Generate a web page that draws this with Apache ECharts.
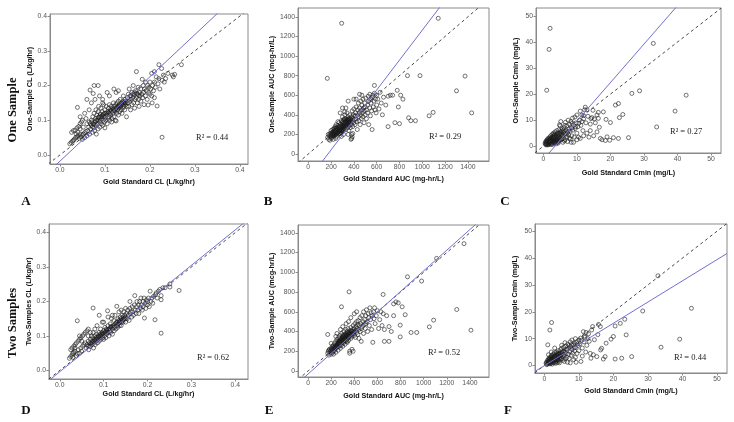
<!DOCTYPE html>
<html><head><meta charset="utf-8">
<script src="https://cdn.jsdelivr.net/npm/echarts@6/dist/echarts.min.js"></script>
<style>html,body{margin:0;padding:0;background:#fff}#c{width:734px;height:422px}</style>
</head><body><div id="c"></div>
<script>
// ---- tick labels ----
const clTicks = [0, 0.1, 0.2, 0.3, 0.4];
const aucTicks = [0, 200, 400, 600, 800, 1000, 1200, 1400];
const cminTicks = [0, 10, 20, 30, 40, 50];

// ---- regression fits [slope, intercept] ----
const fitA = [1.216, -0.018];
const fitB = [1.527, -263];
const fitC = [1.477, -5.1];
const fitD = [1.03, -0.004];
const fitE = [1.046, -31];
const fitF = [0.79, -0.07];

const r2Labels = ['R² = 0.44', 'R² = 0.29', 'R² = 0.27', 'R² = 0.62', 'R² = 0.52', 'R² = 0.44'];
const rowLabels = ['One Sample', 'Two Samples'];
const panelLetters = ['A', 'B', 'C', 'D', 'E', 'F'];

// ---- data points [gold standard, estimate] ----
const ptsA = [[0.022,0.032],[0.025,0.036],[0.028,0.04],[0.03,0.042],[0.032,0.045],[0.035,0.05],[0.038,0.052],[0.04,0.055],[0.026,0.065],[0.03,0.07],[0.034,0.072],[0.038,0.078],[0.042,0.082],[0.045,0.09],[0.048,0.095],[0.05,0.1],[0.043,0.048],[0.047,0.052],[0.05,0.058],[0.052,0.06],[0.055,0.064],[0.058,0.068],[0.045,0.06],[0.05,0.045],[0.055,0.05],[0.06,0.055],[0.04,0.065],[0.036,0.06],[0.045,0.075],[0.052,0.08],[0.039,0.137],[0.045,0.11],[0.055,0.12],[0.058,0.105],[0.06,0.09],
[0.062,0.07],[0.064,0.08],[0.065,0.095],[0.066,0.06],[0.068,0.075],[0.07,0.085],[0.07,0.1],[0.072,0.065],[0.073,0.11],[0.074,0.09],[0.075,0.078],[0.076,0.12],[0.077,0.07],[0.078,0.095],[0.079,0.105],[0.08,0.085],[0.08,0.13],[0.081,0.06],[0.082,0.115],[0.083,0.09],[0.084,0.1],[0.085,0.075],[0.085,0.125],[0.086,0.14],[0.087,0.108],[0.088,0.095],[0.089,0.08],[0.09,0.118],[0.09,0.1],[0.091,0.135],[0.092,0.09],[0.093,0.105],[0.094,0.125],[0.095,0.085],[0.095,0.115],[0.096,0.1],[0.097,0.145],[0.098,0.11],[0.099,0.095],[0.1,0.12],[0.1,0.13],[0.1,0.078],
[0.067,0.187],[0.076,0.2],[0.085,0.2],[0.074,0.177],[0.06,0.16],[0.07,0.15],[0.065,0.13],[0.078,0.16],[0.088,0.17],[0.095,0.16],[0.105,0.18],[0.11,0.17],[0.12,0.19],[0.125,0.18],[0.13,0.185],[0.095,0.15],
[0.102,0.1],[0.103,0.14],[0.104,0.115],[0.105,0.09],[0.106,0.125],[0.107,0.105],[0.108,0.135],[0.109,0.11],[0.11,0.12],[0.11,0.145],[0.111,0.1],[0.112,0.13],[0.113,0.115],[0.114,0.14],[0.115,0.125],[0.116,0.105],[0.117,0.135],[0.118,0.12],[0.119,0.15],[0.12,0.13],[0.12,0.11],[0.121,0.14],[0.122,0.125],[0.123,0.1],[0.124,0.145],[0.125,0.135],[0.126,0.12],[0.127,0.15],[0.128,0.13],[0.129,0.14],[0.13,0.115],[0.13,0.155],[0.131,0.135],[0.132,0.145],[0.133,0.125],[0.134,0.16],[0.135,0.14],[0.136,0.13],[0.137,0.15],[0.138,0.12],[0.139,0.145],[0.14,0.135],[0.14,0.155],[0.141,0.17],[0.142,0.14],[0.143,0.15],[0.144,0.13],[0.145,0.16],[0.146,0.145],[0.147,0.155],[0.148,0.11],[0.149,0.14],[0.15,0.15],[0.15,0.165],[0.115,0.095],[0.125,0.098],
[0.152,0.175],[0.153,0.14],[0.154,0.19],[0.155,0.155],[0.156,0.17],[0.157,0.13],[0.158,0.16],[0.16,0.18],[0.16,0.145],[0.162,0.165],[0.163,0.2],[0.164,0.15],[0.165,0.175],[0.166,0.135],[0.167,0.16],[0.168,0.185],[0.17,0.165],[0.17,0.24],[0.172,0.15],[0.173,0.175],[0.174,0.195],[0.175,0.16],[0.176,0.14],[0.177,0.18],[0.178,0.17],[0.18,0.19],[0.18,0.155],[0.182,0.175],[0.183,0.218],[0.184,0.165],[0.185,0.2],[0.186,0.18],[0.187,0.145],[0.188,0.19],[0.19,0.17],[0.19,0.21],[0.192,0.185],[0.194,0.16],[0.195,0.2],[0.196,0.144],[0.197,0.18],[0.198,0.195],[0.2,0.175],[0.2,0.21],
[0.202,0.19],[0.204,0.17],[0.204,0.235],[0.206,0.2],[0.208,0.185],[0.21,0.24],[0.21,0.21],[0.212,0.195],[0.214,0.225],[0.216,0.141],[0.218,0.205],[0.22,0.26],[0.22,0.22],[0.222,0.19],[0.226,0.249],[0.227,0.215],[0.227,0.051],[0.23,0.23],[0.232,0.21],[0.235,0.22],[0.24,0.235],[0.25,0.23],[0.252,0.225],[0.255,0.232],[0.27,0.26],[0.21,0.165],[0.205,0.15],
[0.068,0.09],[0.071,0.095],[0.073,0.082],[0.076,0.088],[0.079,0.098],[0.082,0.1],[0.085,0.108],[0.088,0.112],[0.091,0.11],[0.094,0.112],[0.097,0.118],[0.101,0.112],[0.104,0.12],[0.108,0.122],[0.111,0.125],[0.114,0.128],[0.118,0.132],[0.121,0.128],[0.124,0.132],[0.127,0.138],[0.131,0.142],[0.134,0.14],[0.138,0.148],[0.142,0.152],[0.145,0.15],[0.158,0.17],[0.162,0.175],[0.166,0.18],[0.171,0.178],[0.175,0.172]];

const ptsB = [[170,170],[175,200],[180,150],[185,190],[190,210],[195,180],[200,200],[200,240],[205,170],[210,220],[210,190],[215,250],[220,200],[220,230],[225,180],[225,260],[230,210],[230,240],[235,195],[235,280],[240,220],[240,250],[245,205],[245,300],[250,230],[250,270],[255,215],[255,250],[260,240],[260,290],[265,200],[265,260],[270,230],[270,320],[275,250],[275,280],[280,210],[280,300],[285,240],[285,270],[290,260],[290,340],[295,230],[295,290],[300,250],[300,310],[300,380],[305,270],[305,330],[310,240],[310,290],[315,350],[315,260],[320,300],[320,400],[325,280],[325,330],[330,310],[330,250],[335,360],[335,290],[340,320],[340,420],[345,270],[345,340],[350,300],[350,380],[355,330],[355,240],[360,350],[360,290],[365,400],[365,320],[370,270],[370,360],[375,340],[375,300],[380,380],[380,160],[380,200],[385,330],[385,440],[390,360],[390,280],[395,400],[400,320],[400,460],[405,350],[410,390],[410,300],[415,420],[420,360],[420,480],[425,330],[430,400],[430,250],[435,450],[440,380],[440,520],[445,340],[450,420],[450,470],[455,300],[460,400],[460,540],[465,360],[470,450],[470,500],[475,420],[480,380],[480,560],[485,470],[490,320],[490,440],[495,520],[500,400],[500,480],[505,570],[510,450],[510,360],[520,500],[520,420],[525,590],[530,540],[530,300],[540,470],[540,610],[545,390],[550,520],[550,560],[555,440],[560,580],[560,250],[565,600],[570,480],[575,540],[580,620],[580,700],[585,450],[590,560],[595,420],[600,600],[600,500],[610,560],[620,460],[630,630],[640,520],[650,400],[660,580],[680,500],[700,590],[700,280],[720,600],[740,600],[760,320],[780,650],[790,480],[800,310],[810,600],[830,560],[870,800],[880,370],[900,340],[940,340],[980,800],[1060,390],[1095,425],[1140,1385],[1300,645],[1375,795],[1433,420],[293,1334],[167,772],
[375,150],[385,175],[390,210],[250,180],[230,260],[280,420],[300,470],[320,430],[350,540],[400,560],[420,560],[450,610],[470,600],[260,330],[330,470],[350,200],[290,180],[310,200],[240,160],[220,150],[200,160],[190,140],
[210,200],[215,185],[225,215],[235,230],[245,240],[255,230],[265,225],[275,245],[285,255],[295,265],[305,280],[315,290],[325,300],[335,310],[345,305],[355,320],[275,210],[285,220],[295,240],[305,250],[265,275],[275,265],[245,265],[300,330],[310,350],[320,360],[330,340],[340,350],[350,345],[360,330],[370,330],[380,350],
[200,185],[205,215],[215,205],[225,225],[230,195],[240,205],[250,215],[260,225],[270,240],[280,255],[290,275],[300,285],[310,300],[320,315],[330,325],[340,335],[350,355],[360,365]];

const ptsC = [[0.5,1],[0.6,1.5],[0.7,0.8],[0.8,2],[0.9,1.2],[1,1.8],[1,0.7],[1.1,2.5],[1.2,1],[1.3,1.6],[1.4,3],[1.5,2.2],[1.5,0.9],[1.6,1.4],[1.7,2.8],[1.8,1.1],[1.9,3.5],[2,2],[2,1.3],[2.1,2.6],[2.2,4],[2.3,1.7],[2.4,3.2],[2.5,1],[2.5,2.3],[2.6,4.5],[2.7,2.9],[2.8,1.5],[2.9,3.6],[3,2.1],[3,5],[3.1,2.7],[3.2,1.2],[3.3,3.3],[3.4,4.2],[3.5,2.4],[3.5,5.5],[3.6,3],[3.7,1.8],[3.8,3.8],[3.9,4.6],[4,2.6],[4,6],[4.1,3.4],[4.2,1.5],[4.3,4],[4.4,5.2],[4.5,2.9],[4.5,3.7],[4.6,6.3],[4.7,4.4],[4.8,2.2],[4.9,5],[5,3.2],[5,7.8],[5.2,4.6],[5.3,2.5],[5.4,5.8],[5.5,3.8],[5.6,6.7],[5.8,4.2],[6,3],[6,5.4],[6.2,7.2],[6.3,2],[6.5,4.8],[6.6,9.2],[6.8,6],[7,3.6],[7,7.8],[7.2,5.2],[7.4,10],[7.5,4.4],[7.6,6.6],[7.8,8.4],[8,2.7],[8,5.8],[8.2,9.5],[8.4,7],[8.5,4],[8.7,10.8],[8.8,6.2],[9,8],[9,1.5],[9.2,3.5],[9.4,11.2],[9.5,6.8],[9.8,9],[10,5],[10,12],[10.3,7.5],[10.5,3.5],[10.8,10],[11,13.5],[11.2,8],[11.5,12],[11.8,6],[12,10.5],[12.3,14],[12.5,15],[12.7,9],[13,14],[13,5],[13.3,11.5],[13.6,3.5],[14,8.5],[14.2,10.6],[14.5,11],[14.8,13.8],[15.2,10.5],[15.5,9],[16,12],[16.4,13],[16.4,10.7],[16.7,7.3],[17,3],[17.5,2.5],[17.9,13.2],[18.7,10.3],[18.5,2.2],[19,3.6],[19.8,2.3],[20,9.1],[20.9,3.3],[22.4,16.4],[21.5,15.8],[22.7,11],[23.7,12.2],[22.4,3],[25.4,3.3],[26.4,20.3],[28.7,21.3],[32.8,39.5],[33.8,7.4],[39.3,13.5],[42.6,19.6],[2,45.3],[1.7,37.2],[1,21.5],
[0.8,0.5],[1.2,2.2],[1.6,0.6],[2.2,0.8],[2.8,3.4],[3.2,4.6],[3.6,1.4],[3.9,2.2],[4.2,4.8],[4.6,1.9],[5.1,5.5],[5.6,2.8],[1.9,2.3],[2.4,1.6],[2.9,2.4],[3.4,1.9],[1.3,0.5],[2.6,0.6],[3.8,0.9],[4.4,1.2],[5.8,1.5],[6.5,2.5],[7.2,1.8],[7.8,3.2],[8.3,1.5],[4,3],[3,3.9],[2,3],[5.5,4.8],[6,6.2],[6.8,4.6],[7.4,5.8],[8.6,8.8],[9.6,7.5],[10.6,8.8],[11.5,9.5],[12,11.8],[6.4,8],[5.2,9.5],[4.8,8.2],[10,2.5],[11,3],[12,4],[14,6],[15,4],[16,5.5]];

const ptsD = [[0.022,0.035],[0.025,0.04],[0.028,0.045],[0.03,0.05],[0.032,0.052],[0.035,0.055],[0.025,0.06],[0.028,0.065],[0.032,0.07],[0.035,0.075],[0.038,0.08],[0.042,0.085],[0.045,0.09],[0.048,0.095],[0.052,0.1],[0.055,0.105],[0.058,0.11],[0.062,0.115],[0.065,0.12],[0.04,0.048],[0.045,0.05],[0.05,0.055],[0.038,0.042],[0.042,0.06],[0.048,0.065],[0.052,0.07],[0.055,0.075],[0.058,0.08],[0.04,0.144],[0.045,0.1],[0.05,0.085],[0.035,0.065],[0.03,0.038],
[0.06,0.065],[0.062,0.075],[0.064,0.07],[0.065,0.085],[0.066,0.06],[0.068,0.08],[0.07,0.09],[0.07,0.07],[0.072,0.1],[0.073,0.075],[0.074,0.085],[0.075,0.095],[0.076,0.11],[0.076,0.181],[0.077,0.065],[0.078,0.08],[0.079,0.09],[0.08,0.1],[0.08,0.12],[0.081,0.075],[0.082,0.085],[0.083,0.095],[0.084,0.105],[0.085,0.13],[0.086,0.08],[0.087,0.09],[0.088,0.1],[0.089,0.11],[0.09,0.16],[0.09,0.085],[0.091,0.095],[0.092,0.105],[0.093,0.12],[0.094,0.09],[0.095,0.1],[0.096,0.11],[0.097,0.14],[0.098,0.095],[0.099,0.105],[0.1,0.115],[0.1,0.09],[0.102,0.1],[0.103,0.125],[0.104,0.11],[0.105,0.095],[0.106,0.12],[0.107,0.105],[0.108,0.115],[0.109,0.173],[0.11,0.11],[0.11,0.13],[0.112,0.1],[0.113,0.12],[0.114,0.115],[0.115,0.135],[0.116,0.11],[0.117,0.125],[0.118,0.15],[0.12,0.12],[0.12,0.105],[0.122,0.13],[0.123,0.145],[0.124,0.115],[0.125,0.125],[0.126,0.16],[0.127,0.135],[0.128,0.12],[0.13,0.186],[0.13,0.13],[0.131,0.14],[0.132,0.125],[0.133,0.15],[0.134,0.135],[0.135,0.145],[0.136,0.13],[0.137,0.14],[0.138,0.155],[0.139,0.145],[0.14,0.15],[0.14,0.13],[0.142,0.16],[0.143,0.145],[0.144,0.14],[0.145,0.155],[0.146,0.17],[0.147,0.15],[0.148,0.16],[0.15,0.14],[0.15,0.155],[0.15,0.18],
[0.152,0.165],[0.154,0.15],[0.155,0.175],[0.156,0.16],[0.158,0.145],[0.16,0.165],[0.16,0.18],[0.162,0.17],[0.164,0.155],[0.165,0.185],[0.166,0.17],[0.168,0.16],[0.17,0.19],[0.171,0.217],[0.172,0.175],[0.174,0.165],[0.175,0.185],[0.176,0.2],[0.178,0.175],[0.18,0.19],[0.18,0.165],[0.182,0.2],[0.184,0.18],[0.185,0.21],[0.186,0.19],[0.188,0.175],[0.19,0.2],[0.19,0.185],[0.192,0.21],[0.193,0.152],[0.195,0.195],[0.196,0.18],[0.198,0.205],[0.2,0.19],[0.2,0.2],[0.202,0.21],[0.204,0.185],[0.206,0.23],[0.208,0.2],[0.21,0.21],[0.212,0.195],[0.214,0.215],[0.217,0.147],[0.218,0.22],[0.22,0.225],[0.222,0.21],[0.225,0.23],[0.228,0.235],[0.231,0.217],[0.231,0.205],[0.231,0.108],[0.235,0.24],[0.24,0.24],[0.251,0.242],[0.251,0.251],[0.272,0.232],[0.12,0.16],[0.1,0.14],[0.11,0.155],[0.135,0.17],[0.14,0.175],[0.16,0.2],[0.07,0.11],[0.065,0.1],
[0.067,0.072],[0.071,0.078],[0.074,0.08],[0.077,0.084],[0.08,0.088],[0.083,0.09],[0.086,0.095],[0.089,0.098],[0.092,0.1],[0.095,0.104],[0.098,0.108],[0.101,0.108],[0.104,0.112],[0.107,0.118],[0.111,0.118],[0.114,0.122],[0.117,0.128],[0.121,0.125],[0.124,0.13],[0.128,0.138],[0.132,0.135],[0.136,0.142],[0.141,0.14],[0.145,0.148],[0.149,0.15]];

const ptsE = [[170,180],[175,200],[180,160],[185,220],[190,190],[195,210],[200,170],[200,230],[205,200],[210,250],[210,185],[215,220],[220,200],[220,260],[225,240],[230,210],[230,280],[235,250],[240,230],[240,300],[245,260],[250,240],[250,320],[255,280],[260,250],[260,300],[265,270],[265,340],[270,290],[270,250],[275,310],[275,360],[280,280],[280,330],[285,300],[285,260],[290,320],[290,380],[295,290],[295,340],[300,310],[300,360],[305,330],[305,280],[310,350],[310,400],[315,320],[315,370],[320,340],[320,300],[325,360],[325,420],[330,330],[330,380],[335,350],[335,300],[340,370],[340,400],[345,340],[345,430],[350,360],[350,310],[355,390],[355,802],[360,200],[360,180],[360,350],[365,410],[365,370],[370,330],[370,440],[375,380],[380,400],[380,350],[385,420],[390,380],[390,460],[395,400],[400,360],[400,430],[405,480],[410,410],[410,340],[415,450],[420,390],[420,500],[425,430],[430,370],[430,470],[435,510],[440,420],[440,330],[445,460],[450,400],[450,540],[455,480],[460,430],[460,300],[465,560],[470,450],[475,500],[480,380],[480,600],[485,470],[490,520],[495,430],[500,560],[500,480],[505,620],[510,500],[515,400],[520,580],[525,540],[530,460],[535,640],[540,520],[545,590],[550,420],[555,560],[560,290],[565,600],[570,530],[575,640],[580,480],[590,560],[600,610],[610,430],[620,520],[630,600],[640,460],[650,580],[660,300],[660,420],[680,560],[700,300],[700,450],[720,400],[740,680],[760,700],[780,690],[740,560],[797,464],[797,345],[814,650],[840,570],[860,954],[891,390],[940,390],[982,911],[1049,447],[1086,515],[1112,1141],[1286,623],[1349,1290],[1409,413],[289,650],[649,775],
[170,370],[380,220],[390,200],[250,380],[300,450],[330,480],[280,420],[240,350],[350,500],[370,540],[400,580],[420,600],[200,280],[180,210],[220,170],[240,190],[260,210],[280,230],[300,250],[320,270],[340,290],[230,240],[250,260],[270,275],[290,290],[310,305],[330,315],[350,335],[260,280],[280,300],[300,320],[320,330],[340,345],[360,380],[380,370],[400,395],[270,300],[290,310],[310,325],
[205,215],[215,235],[225,225],[235,235],[245,250],[255,265],[265,285],[275,295],[285,315],[295,325],[305,345],[315,355],[325,345],[335,365],[345,385],[355,370],[365,390],[375,405]];

const ptsF = [[0.5,0.8],[0.6,1.2],[0.8,0.5],[0.9,1.8],[1,1],[1.1,2.2],[1.2,0.7],[1.3,1.5],[1.4,2.8],[1.5,1.1],[1.6,0.6],[1.7,2],[1.8,3.2],[1.9,1.4],[2,2.5],[2,0.9],[2.1,3.8],[2.2,1.7],[2.3,2.9],[2.4,1.2],[2.5,3.4],[2.5,2.1],[2.6,4.2],[2.7,1.5],[2.8,2.6],[2.9,3.6],[3,1.9],[3,4.8],[3.1,2.9],[3.2,1.3],[3.3,3.9],[3.4,2.4],[3.5,5],[3.5,3.1],[3.6,1.7],[3.7,4.4],[3.8,2.7],[3.9,3.6],[4,2],[4,5.5],[4.1,3.2],[4.2,4.2],[4.3,1.6],[4.4,2.8],[4.5,4.7],[4.5,3.5],[4.6,2.3],[4.7,5.9],[4.8,3.9],[4.9,2.5],[5,4.4],[5,6.4],[5.2,3.2],[5.3,5.2],[5.4,2],[5.5,4],[5.6,6.8],[5.8,3.6],[6,5],[6,2.5],[6.2,7.3],[6.3,4.4],[6.5,3],[6.6,5.8],[6.8,8],[7,4.2],[7,6.4],[7.2,2.6],[7.4,5.2],[7.5,8.8],[7.6,7],[7.8,3.8],[8,6],[8,9.5],[8.2,4.6],[8.4,7.6],[8.5,2.2],[8.7,8.4],[8.8,5.4],[9,10],[9,6.8],[9.2,1.2],[9.4,8.8],[9.5,4.5],[9.8,7.4],[10,9.5],[10,5.5],[10.3,8],[10.6,1.5],[10.8,9.4],[11,6.5],[11.3,12.6],[11.5,8.8],[11.8,10.5],[12.1,12.3],[12.3,7.5],[12.6,10],[13,9],[13.3,4.5],[13.5,2.7],[13.7,13.2],[14,14.5],[14.2,4],[14.5,9.6],[15.2,3.3],[15.5,11.5],[15.7,15.3],[16.2,14.5],[16.3,5.8],[16.6,6.4],[17.1,2.4],[17.6,3.3],[17.9,8.3],[19.3,9.8],[20,10.8],[20.5,14.7],[20.5,2.4],[22,15.7],[23.3,17.2],[23.7,11.4],[22.4,2.7],[25.3,3.3],[28.5,20.3],[32.9,33.4],[33.8,6.8],[39.2,9.8],[42.6,21.3],[2.1,16],[1.6,13.2],[1,7.7],
[0.7,0.3],[1.2,1.3],[1.8,0.8],[2.3,0.5],[2.8,1],[3.3,0.8],[3.8,1.1],[4.4,1],[1.5,2.5],[2,3.2],[2.6,3],[3.1,3.5],[3.6,3.8],[4.1,4.5],[1.3,2],[1.9,2.3],[2.4,2.6],[2.9,2.2],[3.4,2],[3.9,2.3],[4.6,4],[5.1,4.8],[5.7,5.4],[6.4,6],[7.1,7.4],[7.9,7.8],[8.6,6.5],[9.6,8],[10.5,10.2],[11.6,11],[12.8,11.8],[6,8.5],[5,7.5],[3,6.5],[2,5],[1.2,4],[6.7,1.2],[7.5,1],[5.8,1.5],[9,3],[11,3.5],[12,5]];

// ---- panel layout ----
const panels = [
  {grid:{left:50,top:14,width:198,height:150}, x:[-0.022,0.418], y:[-0.026,0.406], xt:clTicks, yt:clTicks, dec:1,
   xname:'Gold Standard CL (L/kg/hr)', yname:'One-Sample CL (L/kg/hr)', pts:ptsA, fit:fitA, xGap:15, yGap:15, r2:[196,139], letter:[26,202]},
  {grid:{left:298,top:8,width:191,height:153}, x:[-90,1585], y:[-71,1490], xt:aucTicks, yt:aucTicks, dec:0,
   xname:'Gold Standard AUC (mg-hr/L)', yname:'One-Sample AUC (mcg-hr/L)', pts:ptsB, fit:fitB, xGap:15, yGap:20, r2:[429,138], letter:[268,202]},
  {grid:{left:536,top:8,width:185,height:145}, x:[-2.2,53], y:[-2.6,53.1], xt:cminTicks, yt:cminTicks, dec:0,
   xname:'Gold Standard Cmin (mg/L)', yname:'One-Sample Cmin (mg/L)', pts:ptsC, fit:fitC, xGap:17, yGap:16, r2:[670,133], letter:[505,202]},
  {grid:{left:49,top:224,width:199,height:155}, x:[-0.0245,0.429], y:[-0.025,0.425], xt:clTicks, yt:clTicks, dec:1,
   xname:'Gold Standard CL (L/kg/hr)', yname:'Two-Samples CL (L/kg/hr)', pts:ptsD, fit:fitD, xGap:12, yGap:15, r2:[197,359], letter:[26,411]},
  {grid:{left:298,top:225,width:191,height:152}, x:[-87,1565], y:[-61,1479], xt:aucTicks, yt:aucTicks, dec:0,
   xname:'Gold Standard AUC (mg-hr/L)', yname:'Two-Sample AUC (mcg-hr/L)', pts:ptsE, fit:fitE, xGap:16, yGap:21, r2:[428,354], letter:[269,411]},
  {grid:{left:535,top:224,width:192,height:149}, x:[-2.7,52.9], y:[-2.8,52.7], xt:cminTicks, yt:cminTicks, dec:0,
   xname:'Gold Standard Cmin (mg/L)', yname:'Two-Sample Cmin (mg/L)', pts:ptsF, fit:fitF, xGap:15, yGap:16, r2:[674,359], letter:[508,411]}
];

const axisCol = '#8a8a8a';
function mkAxis(range, ticks, dec, name, gap) {
  return {
    type:'value', min:range[0], max:range[1], name:name, nameLocation:'middle', nameGap:gap,
    nameTextStyle:{fontFamily:'Liberation Sans', fontWeight:'bold', fontSize:7.2, color:'#111'},
    axisLine:{show:true, onZero:false, lineStyle:{color:axisCol, width:1}},
    axisTick:{show:true, length:2.5, customValues:ticks, lineStyle:{color:axisCol}},
    axisLabel:{show:true, customValues:ticks, fontSize:6.8, color:'#555', fontFamily:'Liberation Sans', margin:3,
      formatter:v => Number(v).toFixed(dec)},
    splitLine:{show:false}
  };
}

const grids=[], xAxes=[], yAxes=[], series=[], graphics=[];
panels.forEach((p,i) => {
  grids.push(Object.assign({show:true, borderColor:axisCol, borderWidth:1, backgroundColor:'transparent'}, p.grid));
  xAxes.push(Object.assign({gridIndex:i}, mkAxis(p.x, p.xt, p.dec, p.xname, p.xGap)));
  yAxes.push(Object.assign({gridIndex:i}, mkAxis(p.y, p.yt, p.dec, p.yname, p.yGap)));
  series.push({type:'scatter', xAxisIndex:i, yAxisIndex:i, data:p.pts, symbol:'circle', symbolSize:4,
    itemStyle:{color:'rgba(255,255,255,0)', borderColor:'#1a1a1a', borderWidth:0.75}, silent:true});
  const lo = Math.min(p.x[0], p.y[0]), hi = Math.max(p.x[1], p.y[1]);
  series.push({type:'line', xAxisIndex:i, yAxisIndex:i, data:[[lo,lo],[hi,hi]], symbol:'none', clip:true, silent:true,
    lineStyle:{color:'#333', width:0.9, type:[3,3]}});
  const s = p.fit[0], b = p.fit[1];
  series.push({type:'line', xAxisIndex:i, yAxisIndex:i, data:[[p.x[0], s*p.x[0]+b],[p.x[1], s*p.x[1]+b]], symbol:'none', clip:true, silent:true,
    lineStyle:{color:'#7070d0', width:1}});
  graphics.push({type:'text', left:p.r2[0], top:p.r2[1]-6, style:{text:r2Labels[i], font:'8.5px "Liberation Serif"', fill:'#222'}});
  graphics.push({type:'text', x:p.letter[0], y:p.letter[1], style:{text:panelLetters[i], font:'bold 13px "Liberation Serif"', fill:'#111', align:'center', verticalAlign:'middle'}});
});
graphics.push({type:'text', x:13, y:110, rotation:Math.PI/2, style:{text:rowLabels[0], font:'bold 12.5px "Liberation Serif"', fill:'#111', align:'center', verticalAlign:'middle'}});
graphics.push({type:'text', x:13, y:323, rotation:Math.PI/2, style:{text:rowLabels[1], font:'bold 12.5px "Liberation Serif"', fill:'#111', align:'center', verticalAlign:'middle'}});

const chart = echarts.init(document.getElementById('c'), null, {renderer:'canvas'});
chart.setOption({animation:false, backgroundColor:'#fff', grid:grids, xAxis:xAxes, yAxis:yAxes, series:series, graphic:graphics});
</script></body></html>
